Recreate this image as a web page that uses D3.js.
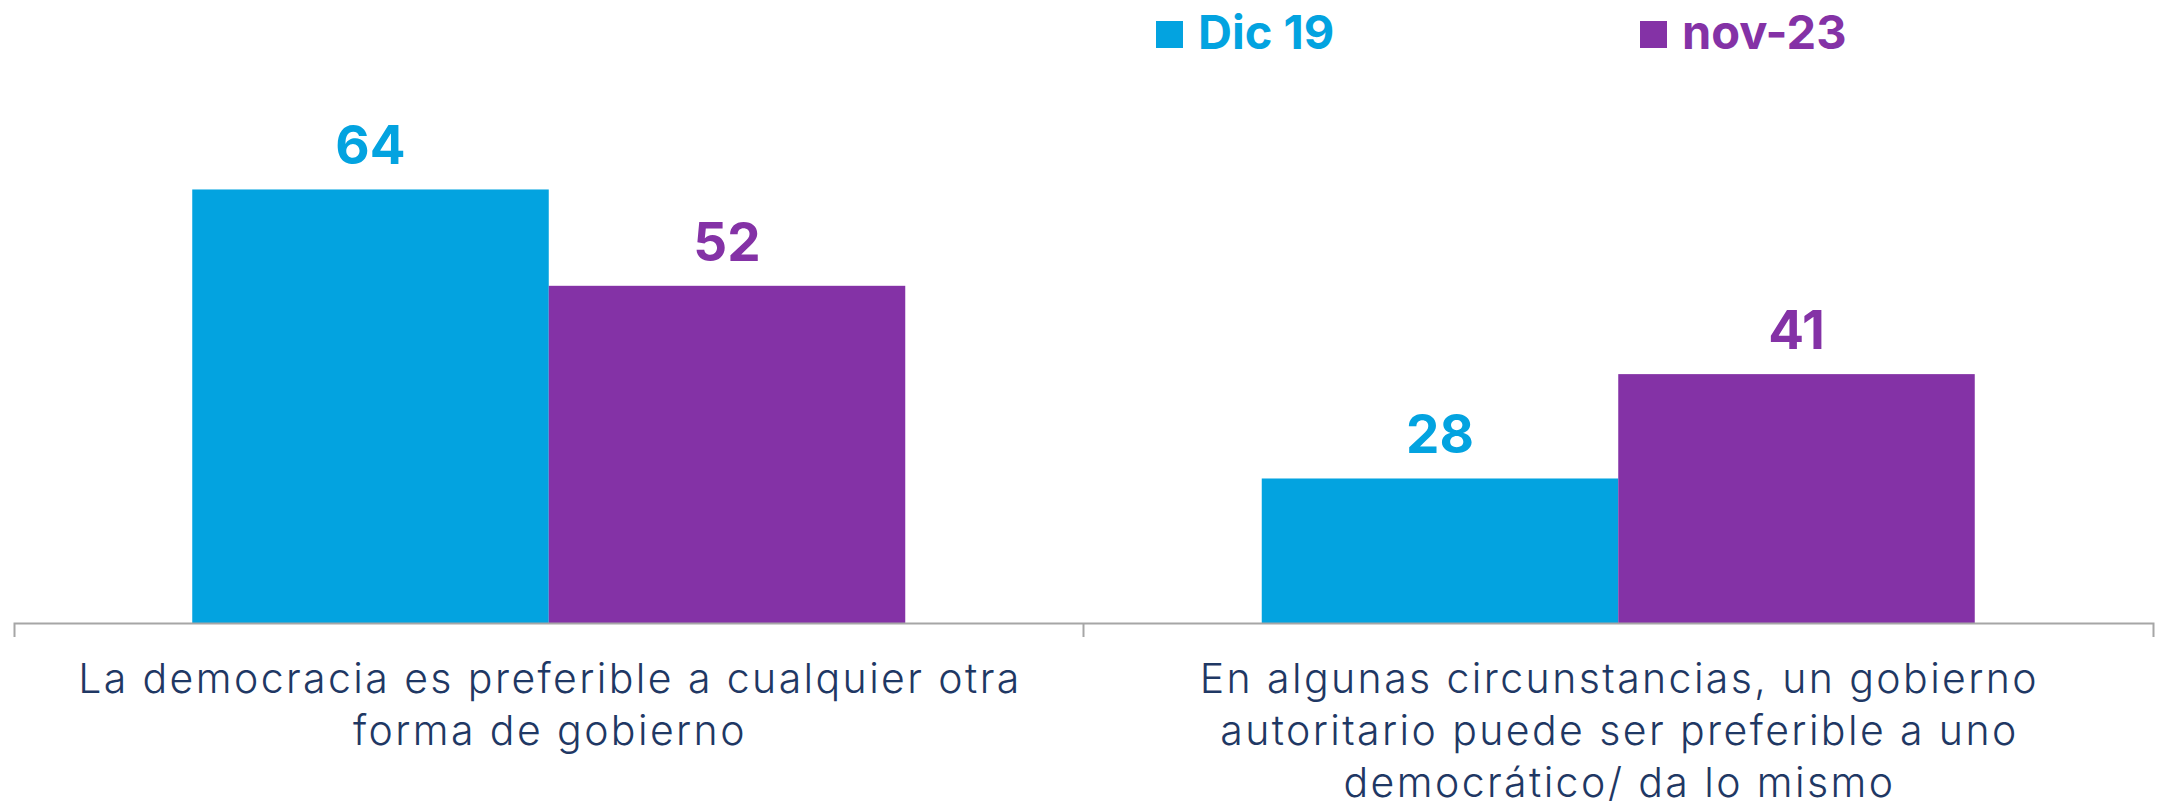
<!DOCTYPE html>
<html><head><meta charset="utf-8">
<script src="https://cdn.jsdelivr.net/npm/d3@7"></script>
<style>html,body{margin:0;padding:0;background:#fff;overflow:hidden}</style>
</head><body>
<svg id="c" width="2160" height="801"></svg>
<script>
const categories = ["La democracia es preferible a cualquier otra forma de gobierno",
  "En algunas circunstancias, un gobierno autoritario puede ser preferible a uno democrático/ da lo mismo"];
const categoryLines = [
  ["La democracia es preferible a cualquier otra", "forma de gobierno"],
  ["En algunas circunstancias, un gobierno", "autoritario puede ser preferible a uno", "democrático/ da lo mismo"]
];
const seriesNames = ["Dic 19", "nov-23"];
const dic19 = [64, 28];
const nov23 = [52, 41];
const seriesColors = ["#03A3E0", "#8432A6"];
const yDomain = [10, 70];

const svg = d3.select("#c");
const baseY = 623, topY = 141.3, left = 14, right = 2153;
const x = d3.scaleBand().domain(categories).range([left, right]).paddingInner(0).paddingOuter(0);
const x1 = d3.scaleBand().domain(seriesNames).range([0, x.bandwidth()]).paddingInner(0).paddingOuter(0.5);
const y = d3.scaleLinear().domain(yDomain).range([baseY, topY]);
const color = d3.scaleOrdinal().domain(seriesNames).range(seriesColors);

const data = categories.map((c, i) => ({cat: c, vals: [
  {s: seriesNames[0], v: dic19[i]}, {s: seriesNames[1], v: nov23[i]}]}));

const g = svg.selectAll("g.grp").data(data).join("g").attr("class","grp")
  .attr("transform", d => `translate(${x(d.cat)},0)`);
g.selectAll("rect").data(d => d.vals).join("rect")
  .attr("x", d => x1(d.s)).attr("width", x1.bandwidth())
  .attr("y", d => y(d.v)).attr("height", d => baseY - y(d.v))
  .attr("fill", d => color(d.s));
g.selectAll("text.val").data(d => d.vals).join("text").attr("class","val")
  .attr("x", d => x1(d.s) + x1.bandwidth()/2).attr("y", d => y(d.v) - 25)
  .attr("text-anchor","middle").attr("font-family","Inter").attr("font-weight",700)
  .attr("font-size", 53).attr("fill", d => color(d.s)).text(d => d.v);

// axis
const axis = d3.axisBottom(x).tickValues([]).tickSizeOuter(14);
const ag = svg.append("g").attr("transform", `translate(0,${baseY})`).call(axis);
ag.select(".domain").attr("stroke", "#A6A6A6").attr("stroke-width", 2);
ag.selectAll(".mid").data(categories.slice(1)).join("line").attr("class","mid")
  .attr("x1", d => x(d)).attr("x2", d => x(d)).attr("y1", 0).attr("y2", 14)
  .attr("stroke", "#A6A6A6").attr("stroke-width", 2);

// category labels
const ls = 2.4;
categories.forEach((c, i) => {
  const t = svg.append("text").attr("text-anchor","middle").attr("font-family","Inter")
    .attr("font-weight",300).attr("font-size",41).attr("letter-spacing", ls).attr("fill","#1F3864");
  categoryLines[i].forEach((ln, j) => {
    t.append("tspan").attr("x", x(c) + x.bandwidth()/2 + ls/2).attr("y", 693 + j*52).text(ln);
  });
});

// legend
const legX = [1156, 1640];
const lg = svg.selectAll("g.leg").data(seriesNames).join("g").attr("class","leg")
  .attr("transform", (d,i) => `translate(${legX[i]},0)`);
lg.append("rect").attr("x",0).attr("y",21).attr("width",27).attr("height",27).attr("fill", d => color(d));
lg.append("text").attr("x",42).attr("y",49).attr("font-family","Inter").attr("font-weight",700)
  .attr("font-size",47).attr("fill", d => color(d)).text(d => d);
</script>
</body></html>
